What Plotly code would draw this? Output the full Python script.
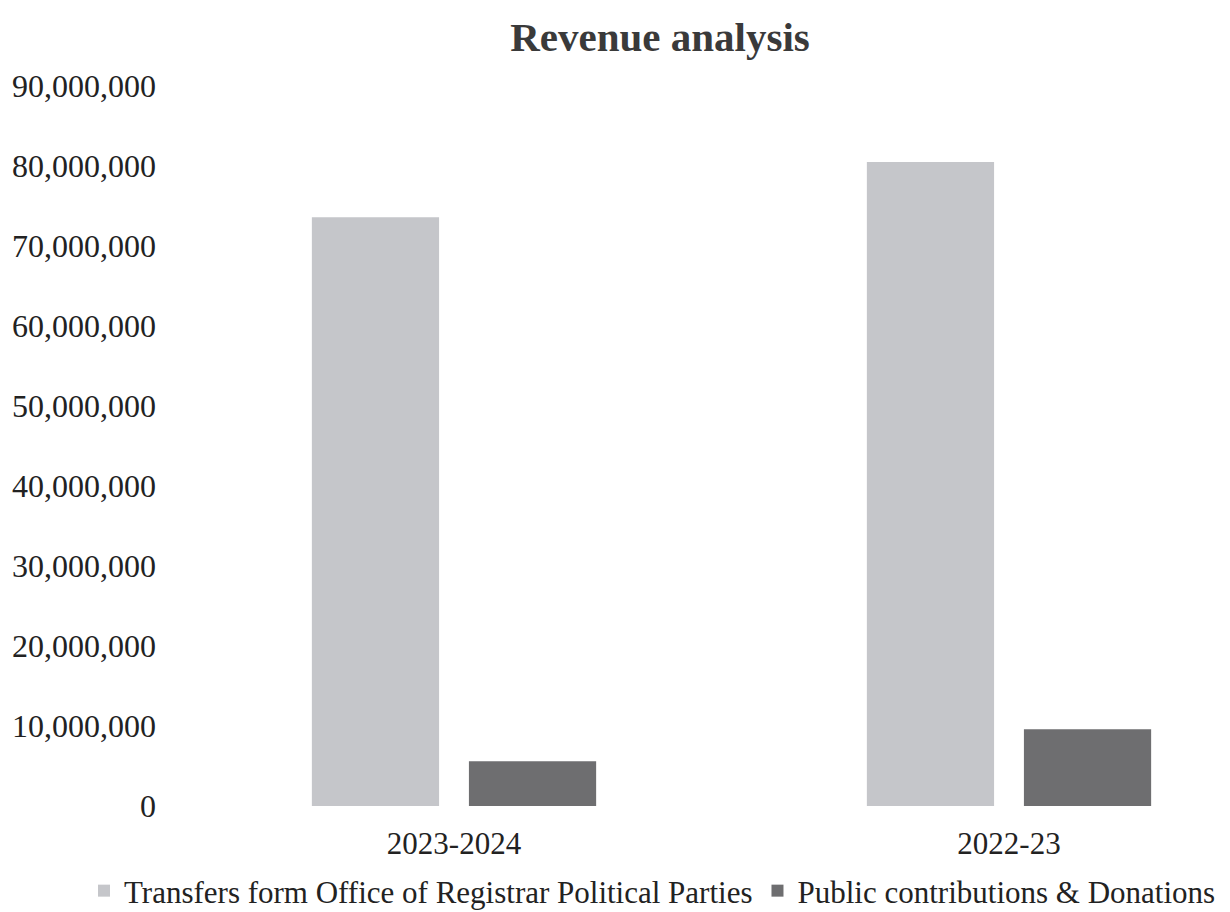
import plotly.graph_objects as go

categories = ["2023-2024", "2022-23"]
transfers = [73600000, 80500000]
contributions = [5600000, 9600000]
series_names = ["Transfers form Office of Registrar Political Parties", "Public contributions & Donations"]
y_ticks = [0, 10000000, 20000000, 30000000, 40000000, 50000000, 60000000, 70000000, 80000000, 90000000]

FONT = "Liberation Serif"
W, H = 1230, 912
ml, mr, mt, mb = 178, 0, 78, 114
plot_w = W - ml - mr
plot_h = H - mt - mb
cat_px = 555.0
cat0_px = 446.0

fig = go.Figure()
fig.add_trace(go.Bar(x=categories, y=transfers, name=series_names[0],
                     marker=dict(color="#c5c6ca", line=dict(width=0))))
fig.add_trace(go.Bar(x=categories, y=contributions, name=series_names[1],
                     marker=dict(color="#6e6e70", line=dict(width=0))))

cx = 652  # visual center of original chart
x0 = -(cat0_px - ml) / cat_px
legend_left_px = 76
fig.update_layout(
    width=W, height=H,
    margin=dict(l=ml, r=mr, t=mt, b=mb, autoexpand=False),
    paper_bgcolor="white", plot_bgcolor="white",
    barmode="group", bargap=0.434, bargroupgap=0.19,
    font=dict(family=FONT, color="#222222", size=31),
    title=dict(text="<b>Revenue analysis</b>", x=cx / W, xref="container", xanchor="center",
               y=1 - 29 / H, yref="container", yanchor="middle",
               font=dict(family=FONT, size=41, color="#3a3a3a")),
    showlegend=True,
    legend=dict(orientation="h", xref="paper", x=(legend_left_px - ml) / plot_w, xanchor="left",
                yref="paper", y=-(883 - (H - mb)) / plot_h, yanchor="middle",
                font=dict(family=FONT, size=31, color="#222222"),
                itemwidth=30, tracegroupgap=0, bgcolor="rgba(0,0,0,0)"),
    xaxis=dict(range=[x0, x0 + plot_w / cat_px], showgrid=False, zeroline=False,
               showline=False, ticks="", tickfont=dict(family=FONT, size=31, color="#222222"),
               ticklabelstandoff=16),
    yaxis=dict(range=[0, 90000000], tickvals=y_ticks, tickformat=",.0f", showgrid=False,
               zeroline=False, showline=False, ticks="",
               tickfont=dict(family=FONT, size=32, color="#222222"),
               ticklabelstandoff=29),
)

fig.write_html("out.html")
